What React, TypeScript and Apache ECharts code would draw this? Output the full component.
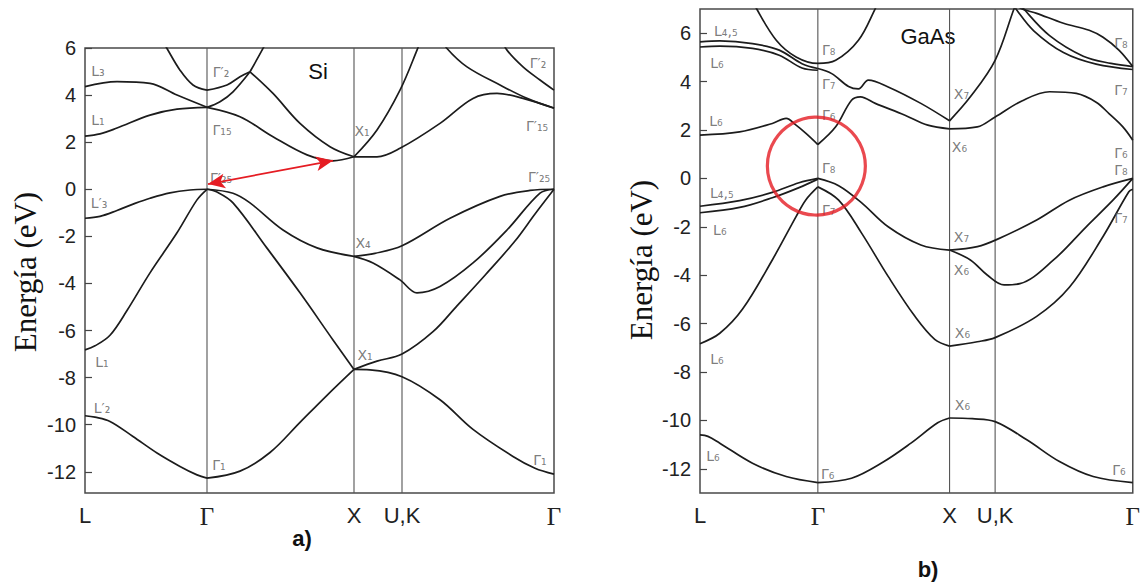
import React, { useEffect, useRef } from 'react';
import * as echarts from 'echarts';

// ---------- axes / high-symmetry points ----------
const kLabels = ['L', 'Γ', 'X', 'U,K', 'Γ'];
const siPoints = [0, 1.22, 2.69, 3.17, 4.69];
const gaPoints = [0, 1.19, 2.52, 2.98, 4.37];
const yTicks = [-12, -10, -8, -6, -4, -2, 0, 2, 4, 6];

// ---------- Si bands [k, E(eV)] ----------
const si_v1_LG = [[0, -9.62], [0.1, -9.68], [0.25, -9.86], [0.48, -10.5], [0.72, -11.2], [0.95, -11.77], [1.12, -12.13], [1.22, -12.27]];
const si_v1_GX = [[1.22, -12.27], [1.55, -11.97], [1.85, -11.18], [2.15, -9.9], [2.42, -8.75], [2.69, -7.65]];
const si_v1_XG = [[2.69, -7.65], [2.85, -7.67], [3.17, -7.96], [3.55, -8.94], [3.88, -10.2], [4.28, -11.35], [4.5, -11.85], [4.69, -12.1]];
const si_v2_LG = [[0, -6.82], [0.1, -6.65], [0.25, -6.2], [0.42, -5.15], [0.65, -3.55], [0.92, -1.85], [1.12, -0.45], [1.22, 0]];
const si_v2_GX = [[1.22, 0], [1.32, -0.12], [1.48, -0.58], [1.82, -2.5], [2.15, -4.4], [2.48, -6.4], [2.69, -7.65]];
const si_v2_XG = [[2.69, -7.65], [2.92, -7.3], [3.17, -7.0], [3.48, -6.05], [3.72, -4.95], [4.0, -3.65], [4.3, -2.2], [4.5, -1.05], [4.69, 0]];
const si_v3_LG = [[0, -1.23], [0.15, -1.15], [0.32, -0.9], [0.5, -0.6], [0.65, -0.38], [0.85, -0.15], [1.05, -0.03], [1.22, 0]];
const si_v3_GX = [[1.22, 0], [1.48, -0.17], [1.65, -0.58], [1.98, -1.73], [2.32, -2.49], [2.69, -2.85]];
const si_v3_XG = [[2.69, -2.85], [2.9, -2.72], [3.17, -2.4], [3.65, -1.23], [4.15, -0.3], [4.45, -0.05], [4.69, 0]];
const si_v4_XG = [[2.69, -2.85], [2.88, -3.13], [3.15, -3.85], [3.32, -4.4], [3.55, -4.13], [3.88, -3.13], [4.22, -1.73], [4.55, -0.16], [4.69, 0]];
const si_c1_LG = [[0, 2.26], [0.15, 2.35], [0.32, 2.6], [0.65, 3.15], [0.92, 3.4], [1.22, 3.48]];
const si_c1_GX = [[1.22, 3.48], [1.55, 3.08], [1.88, 2.23], [2.22, 1.46], [2.48, 1.21], [2.69, 1.38]];
const si_c1_XG = [[2.69, 1.38], [2.92, 1.38], [3.15, 1.74], [3.55, 2.8], [3.88, 3.86], [4.12, 4.07], [4.38, 3.86], [4.69, 3.45]];
const si_c1_Xup = [[2.69, 1.38], [2.92, 2.52], [3.15, 4.21], [3.32, 5.91], [3.38, 6.6]];
const si_c2_LG = [[0, 4.36], [0.32, 4.57], [0.65, 4.5], [0.92, 4.0], [1.22, 3.48]];
const si_c2_GA = [[1.22, 3.48], [1.35, 3.72], [1.48, 4.14], [1.65, 4.99]];
const si_c2_AX = [[1.65, 4.99], [1.88, 4.07], [2.15, 2.8], [2.45, 1.81], [2.69, 1.38]];
const si_c3_LG = [[0.75, 6.5], [0.82, 5.98], [0.95, 5.06], [1.08, 4.43], [1.22, 4.21]];
const si_c3_GA = [[1.22, 4.21], [1.42, 4.43], [1.55, 4.78], [1.65, 4.99]];
const si_c3_Aup = [[1.65, 4.99], [1.78, 5.98], [1.84, 6.5]];
const si_c4_KG = [[3.55, 6.5], [3.62, 5.98], [3.82, 5.2], [4.15, 4.43], [4.42, 3.86], [4.69, 3.44]];
const si_c5_KG = [[4.15, 6.5], [4.22, 5.91], [4.38, 5.2], [4.55, 4.64], [4.69, 4.21]];
const siArrow = [[1.23, 0.22], [2.48, 1.22]];

// ---------- GaAs bands [k, E(eV)] ----------
const ga_v1_LG = [[0, -10.6], [0.08, -10.66], [0.2, -10.94], [0.53, -11.77], [0.87, -12.32], [1.19, -12.57]];
const ga_v1_GX = [[1.19, -12.57], [1.53, -12.39], [1.85, -11.72], [2.13, -10.94], [2.4, -10.1], [2.52, -9.9]];
const ga_v1_XG = [[2.52, -9.9], [2.75, -9.93], [2.98, -10.05], [3.3, -10.8], [3.63, -11.7], [3.97, -12.32], [4.37, -12.57]];
const ga_v2_LG = [[0, -6.83], [0.2, -6.4], [0.43, -5.4], [0.73, -3.37], [0.97, -1.58], [1.07, -0.88], [1.19, -0.35]];
const ga_v2_GX = [[1.19, -0.35], [1.4, -0.9], [1.63, -2.25], [1.9, -4.05], [2.17, -5.7], [2.37, -6.65], [2.52, -6.93]];
const ga_v2_XG = [[2.52, -6.93], [2.8, -6.75], [2.98, -6.58], [3.4, -5.7], [3.73, -4.5], [4.07, -2.4], [4.33, -0.55], [4.37, -0.45]];
const ga_v3_LG = [[0, -1.15], [0.4, -0.92], [0.73, -0.58], [1.0, -0.18], [1.19, 0]];
const ga_v4_LG = [[0, -1.42], [0.4, -1.2], [0.73, -0.8], [1.0, -0.38], [1.19, -0.03]];
const ga_v3_GX = [[1.19, 0], [1.4, -0.3], [1.63, -1.0], [1.9, -2.0], [2.23, -2.75], [2.52, -2.96]];
const ga_v3_XG = [[2.52, -2.96], [2.8, -2.82], [3.0, -2.52], [3.4, -1.72], [3.73, -0.9], [4.07, -0.35], [4.37, 0]];
const ga_v4_XG = [[2.52, -2.96], [2.73, -3.37], [2.9, -3.99], [3.07, -4.4], [3.23, -4.35], [3.57, -3.37], [3.9, -2.0], [4.17, -0.9], [4.37, 0]];
const ga_c1_LG = [[0, 1.79], [0.4, 1.92], [0.73, 2.27], [0.87, 2.48], [0.97, 2.2], [1.07, 1.86], [1.19, 1.4]];
const ga_c1_GX = [[1.19, 1.4], [1.37, 2.13], [1.53, 3.23], [1.62, 3.37], [1.77, 3.1], [2.07, 2.61], [2.3, 2.2], [2.52, 2.05]];
const ga_c1_XG = [[2.52, 2.05], [2.8, 2.13], [2.98, 2.54], [3.25, 3.2], [3.53, 3.58], [3.8, 3.51], [4.0, 3.15], [4.13, 2.68], [4.27, 2.13], [4.37, 1.58]];
const ga_c2_LG = [[0, 5.64], [0.2, 5.68], [0.53, 5.57], [0.8, 5.3], [1.03, 4.74], [1.19, 4.54]];
const ga_c2_GX = [[1.19, 4.54], [1.33, 4.33], [1.5, 3.8], [1.6, 3.7], [1.7, 4.06], [1.9, 3.78], [2.23, 3.1], [2.52, 2.38]];
const ga_c2_Xup = [[2.52, 2.38], [2.73, 3.37], [2.98, 4.88], [3.17, 7.0], [3.22, 7.5]];
const ga_c3_LG = [[0, 5.43], [0.2, 5.47], [0.53, 5.37], [0.8, 5.09], [1.03, 4.56], [1.19, 4.47]];
const ga_c4_par = [[0.52, 7.5], [0.57, 7.02], [0.77, 5.71], [0.97, 5.02], [1.19, 4.75], [1.37, 4.88], [1.6, 5.71], [1.77, 7.02], [1.82, 7.5]];
const ga_t1_KG = [[3.15, 7.3], [3.2, 6.95], [3.37, 6.1], [3.67, 5.2], [4.0, 4.72], [4.37, 4.5]];
const ga_t2_KG = [[3.2, 7.3], [3.23, 7.05], [3.4, 6.82], [3.67, 6.41], [3.93, 6.12], [4.07, 5.83], [4.23, 5.3], [4.37, 4.62]];
const ga_t3_KG = [[3.22, 7.3], [3.27, 7.0], [3.53, 5.9], [3.87, 5.05], [4.15, 4.75], [4.37, 4.62]];
const gaCircle = [1.175, 0.51];

// ---------- state labels [text, k, E] ----------
const siLabels = [
  ['L₃', 0.13, 5.02], ['L₁', 0.13, 2.94], ['L′₃', 0.14, -0.58], ['L₁', 0.17, -7.33], ['L′₂', 0.17, -9.29],
  ['Γ′₂', 1.36, 4.98], ['Γ₁₅', 1.37, 2.51], ['Γ′₂₅', 1.36, 0.48], ['Γ₁', 1.34, -11.7],
  ['X₁', 2.77, 2.47], ['X₄', 2.78, -2.28], ['X₁', 2.8, -7.03],
  ['Γ′₂', 4.53, 5.36], ['Γ′₁₅', 4.52, 2.69], ['Γ′₂₅', 4.54, 0.52], ['Γ₁', 4.55, -11.5],
];
const gaLabels = [
  ['L₄,₅', 0.26, 6.08], ['L₆', 0.17, 4.76], ['L₆', 0.16, 2.36], ['L₄,₅', 0.22, -0.61], ['L₆', 0.2, -2.13], ['L₆', 0.17, -7.46], ['L₆', 0.13, -11.47],
  ['Γ₈', 1.3, 5.3], ['Γ₇', 1.3, 3.89], ['Γ₆', 1.3, 2.6], ['Γ₈', 1.3, 0.43], ['Γ₇', 1.3, -1.31], ['Γ₆', 1.29, -12.2],
  ['X₇', 2.64, 3.48], ['X₆', 2.62, 1.29], ['X₇', 2.64, -2.42], ['X₆', 2.64, -3.79], ['X₆', 2.65, -6.39], ['X₆', 2.65, -9.36],
  ['Γ₈', 4.25, 5.59], ['Γ₇', 4.25, 3.64], ['Γ₆', 4.25, 1.04], ['Γ₈', 4.25, 0.34], ['Γ₇', 4.25, -1.65], ['Γ₆', 4.23, -12.04],
];

const siBands = [si_v1_LG, si_v1_GX, si_v1_XG, si_v2_LG, si_v2_GX, si_v2_XG, si_v3_LG, si_v3_GX, si_v3_XG, si_v4_XG,
  si_c1_LG, si_c1_GX, si_c1_XG, si_c1_Xup, si_c2_LG, si_c2_GA, si_c2_AX, si_c3_LG, si_c3_GA, si_c3_Aup, si_c4_KG, si_c5_KG];
const gaBands = [ga_v1_LG, ga_v1_GX, ga_v1_XG, ga_v2_LG, ga_v2_GX, ga_v2_XG, ga_v3_LG, ga_v4_LG, ga_v3_GX, ga_v3_XG, ga_v4_XG,
  ga_c1_LG, ga_c1_GX, ga_c1_XG, ga_c2_LG, ga_c2_GX, ga_c2_Xup, ga_c3_LG, ga_c4_par, ga_t1_KG, ga_t2_KG, ga_t3_KG];

const RED = '#e51c23';

function buildOption() {
  const panels = [
    { points: siPoints, yMin: -12.9, yMax: 6, bands: siBands, labels: siLabels },
    { points: gaPoints, yMin: -13, yMax: 7, bands: gaBands, labels: gaLabels },
  ];
  const series: any[] = [];
  panels.forEach((p, i) => {
    // vertical lines at interior high-symmetry points
    p.points.slice(1, 4).forEach((k) => {
      series.push({
        type: 'line', xAxisIndex: i, yAxisIndex: i, data: [[k, p.yMin], [k, p.yMax]],
        symbol: 'none', silent: true, lineStyle: { color: '#555', width: 1.1 }, z: 2,
      });
    });
    p.bands.forEach((b) => {
      series.push({
        type: 'line', xAxisIndex: i, yAxisIndex: i, data: b, smooth: 0.35, symbol: 'none',
        silent: true, clip: true, lineStyle: { color: '#1c1c1c', width: 1.7 }, z: 3,
      });
    });
    series.push({
      type: 'scatter', xAxisIndex: i, yAxisIndex: i, symbolSize: 0, silent: true, z: 4,
      data: p.labels.map(([t, k, e]) => [k, e, t]),
      label: {
        show: true, position: 'inside', formatter: (q: any) => q.data[2],
        fontFamily: 'DejaVu Sans', fontSize: 14, color: '#5a5a5a',
      },
    });
  });
  series.push({
    type: 'line', xAxisIndex: 0, yAxisIndex: 0, data: [], silent: true,
    markLine: {
      silent: true, symbol: ['arrow', 'arrow'], symbolSize: [11, 17], animation: false,
      lineStyle: { color: RED, width: 1.7, type: 'solid' }, label: { show: false },
      data: [[{ coord: siArrow[0] }, { coord: siArrow[1] }]],
    },
  });
  series.push({
    type: 'scatter', xAxisIndex: 1, yAxisIndex: 1, data: [gaCircle], symbol: 'circle', symbolSize: 98,
    silent: true, z: 6, itemStyle: { color: 'rgba(0,0,0,0)', borderColor: RED, borderWidth: 3.2 },
  });

  const fmt = (pts: number[]) => (v: number) => {
    let best = 0;
    pts.forEach((q, j) => { if (Math.abs(q - v) < Math.abs(pts[best] - v)) best = j; });
    const t = kLabels[best];
    return t === 'Γ' ? '{g|Γ}' : `{s|${t}}`;
  };

  return {
    animation: false,
    backgroundColor: '#ffffff',
    grid: [
      { left: 85, top: 48, width: 469, height: 445, show: true, borderColor: '#4a4a4a', borderWidth: 1.5 },
      { left: 700, top: 9, width: 437, height: 484, show: true, borderColor: '#4a4a4a', borderWidth: 1.5 },
    ],
    xAxis: panels.map((p, i) => ({
      type: 'value', gridIndex: i, min: 0, max: p.points[4],
      axisLine: { show: false }, axisTick: { show: false }, splitLine: { show: false },
      axisLabel: {
        customValues: p.points, formatter: fmt(p.points), margin: 11,
        rich: {
          g: { fontFamily: 'Liberation Serif', fontSize: 25, color: '#222' },
          s: { fontFamily: 'Liberation Sans', fontSize: 22, color: '#222' },
        },
      },
    })),
    yAxis: panels.map((p, i) => ({
      type: 'value', gridIndex: i, min: p.yMin, max: p.yMax,
      axisLine: { show: false }, splitLine: { show: false },
      axisTick: { show: true, inside: true, length: 7, customValues: yTicks, lineStyle: { color: '#444', width: 1.2 } },
      axisLabel: { customValues: yTicks, fontSize: 20, fontFamily: 'Liberation Sans', color: '#222', margin: 9 },
    })),
    series,
    graphic: [
      { type: 'text', x: 25, y: 272, rotation: Math.PI / 2, style: { text: 'Energía (eV)', fontSize: 31, fontFamily: 'Liberation Serif', fill: '#111', align: 'center', verticalAlign: 'middle' } },
      { type: 'text', x: 641, y: 260, rotation: Math.PI / 2, style: { text: 'Energía (eV)', fontSize: 31, fontFamily: 'Liberation Serif', fill: '#111', align: 'center', verticalAlign: 'middle' } },
      { type: 'text', x: 318, y: 71, style: { text: 'Si', fontSize: 22, fontFamily: 'Liberation Sans', fill: '#111', align: 'center', verticalAlign: 'middle' } },
      { type: 'text', x: 928, y: 36, style: { text: 'GaAs', fontSize: 22, fontFamily: 'Liberation Sans', fill: '#111', align: 'center', verticalAlign: 'middle' } },
      { type: 'text', x: 302, y: 538, style: { text: 'a)', fontSize: 22, fontWeight: 'bold', fontFamily: 'Liberation Sans', fill: '#111', align: 'center', verticalAlign: 'middle' } },
      { type: 'text', x: 928, y: 569, style: { text: 'b)', fontSize: 22, fontWeight: 'bold', fontFamily: 'Liberation Sans', fill: '#111', align: 'center', verticalAlign: 'middle' } },
    ],
  };
}

export default function App() {
  const ref = useRef<HTMLDivElement>(null);
  useEffect(() => {
    const chart = echarts.init(ref.current as HTMLDivElement, null, { renderer: 'svg' });
    chart.setOption(buildOption() as any);
    return () => chart.dispose();
  }, []);
  return <div ref={ref} style={{ position: 'fixed', left: 0, top: 0, width: 1143, height: 585, background: '#fff' }} />;
}
